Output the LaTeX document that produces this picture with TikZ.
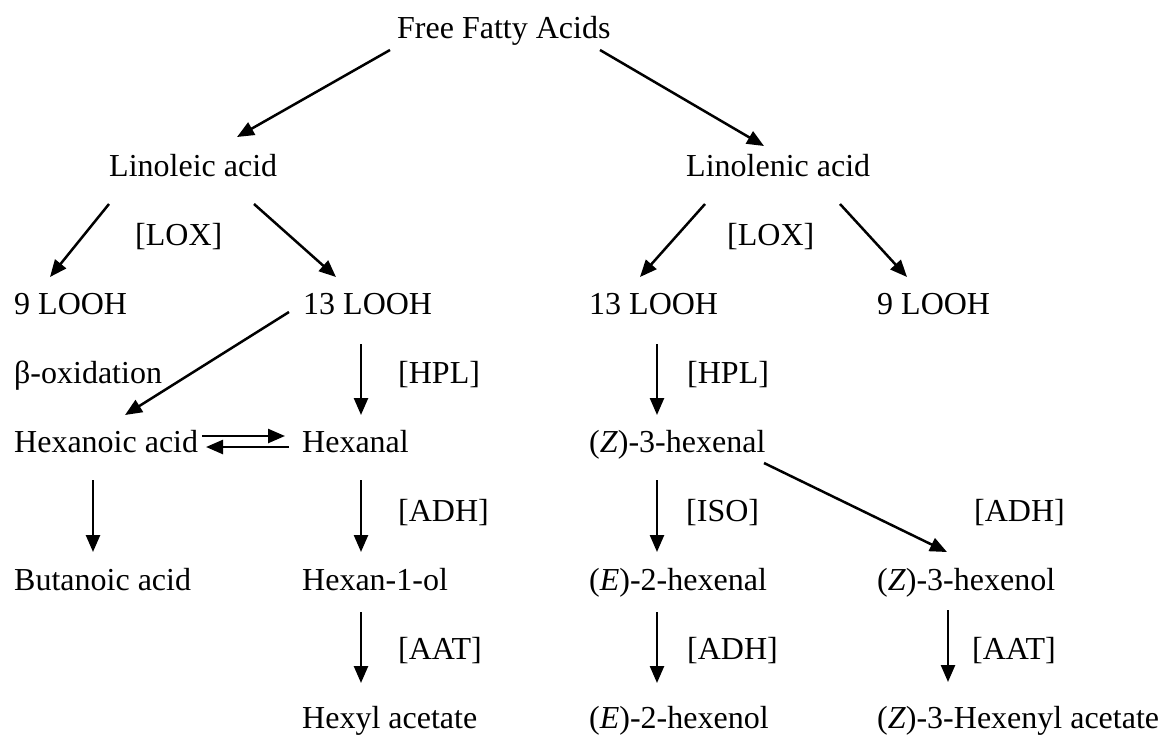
\documentclass[tikz,border=0pt]{standalone}
\usepackage{fontspec}
\setmainfont{Liberation Serif}
\usetikzlibrary{arrows.meta}
\begin{document}
\begin{tikzpicture}[x=1pt,y=1pt,
  lbl/.style={anchor=base west, inner sep=0pt, font=\fontsize{32}{38}\selectfont},
  arr/.style={line width=2.5pt, -{Triangle[length=17pt,width=14pt]}}]
\useasboundingbox (0,0) rectangle (1162,-734);
% nodes
\node[lbl] (ffa) at (397,-38) {Free Fatty Acids};
\node[lbl] (lino) at (109,-176) {Linoleic acid};
\node[lbl] (lnn) at (686,-176) {Linolenic acid};
\node[lbl] (loxL) at (135,-245) {[LOX]};
\node[lbl] (loxR) at (727,-245) {[LOX]};
\node[lbl] (l9a) at (14,-314) {9 LOOH};
\node[lbl] (l13a) at (303,-314) {13 LOOH};
\node[lbl] (l13b) at (589,-314) {13 LOOH};
\node[lbl] (l9b) at (877,-314) {9 LOOH};
\node[lbl] (beta) at (14,-383) {β-oxidation};
\node[lbl] (hplL) at (398,-383) {[HPL]};
\node[lbl] (hplR) at (687,-383) {[HPL]};
\node[lbl] (hexacid) at (14,-452) {Hexanoic acid};
\node[lbl] (hexanal) at (302,-452) {Hexanal};
\node[lbl] (zhexenal) at (589,-452) {(\textit{Z})-3-hexenal};
\node[lbl] (adhL) at (398,-521) {[ADH]};
\node[lbl] (iso) at (686,-521) {[ISO]};
\node[lbl] (adhR) at (974,-521) {[ADH]};
\node[lbl] (butan) at (14,-590) {Butanoic acid};
\node[lbl] (hexanol) at (302,-590) {Hexan-1-ol};
\node[lbl] (ehexenal) at (589,-590) {(\textit{E})-2-hexenal};
\node[lbl] (zhexenol) at (877,-590) {(\textit{Z})-3-hexenol};
\node[lbl] (aatL) at (398,-659) {[AAT]};
\node[lbl] (adhM) at (687,-659) {[ADH]};
\node[lbl] (aatR) at (972,-659) {[AAT]};
\node[lbl] (hexylac) at (302,-728) {Hexyl acetate};
\node[lbl] (ehexenol) at (589,-728) {(\textit{E})-2-hexenol};
\node[lbl] (zacet) at (877,-728) {(\textit{Z})-3-Hexenyl acetate};
% connectors
\draw[arr] ([shift={(-7,-12)}]ffa.base west) -- ([shift={(128,39)}]lino.base west);
\draw[arr] ([shift={(203,-12)}]ffa.base west) -- ([shift={(78,30)}]lnn.base west);
\draw[arr] ([shift={(0,-28)}]lino.base west) -- ([shift={(36,37)}]l9a.base west);
\draw[arr] ([shift={(145,-28)}]lino.base west) -- ([shift={(33,37)}]l13a.base west);
\draw[arr] ([shift={(19,-28)}]lnn.base west) -- ([shift={(51,37)}]l13b.base west);
\draw[arr] ([shift={(154,-28)}]lnn.base west) -- ([shift={(30,37)}]l9b.base west);
\draw[arr] ([shift={(-14,2)}]l13a.base west) -- ([shift={(111,37)}]hexacid.base west);
\draw[arr] ([shift={(58,-30)}]l13a.base west) -- ([shift={(59,37)}]hexanal.base west);
\draw[arr] ([shift={(188,16)}]hexacid.base west) -- ([shift={(-17,16)}]hexanal.base west);
\draw[arr] ([shift={(-13,5)}]hexanal.base west) -- ([shift={(192,5)}]hexacid.base west);
\draw[arr] ([shift={(79,-28)}]hexacid.base west) -- ([shift={(79,38)}]butan.base west);
\draw[arr] ([shift={(59,-28)}]hexanal.base west) -- ([shift={(59,38)}]hexanol.base west);
\draw[arr] ([shift={(59,-22)}]hexanol.base west) -- ([shift={(59,45)}]hexylac.base west);
\draw[arr] ([shift={(68,-30)}]l13b.base west) -- ([shift={(68,37)}]zhexenal.base west);
\draw[arr] ([shift={(68,-28)}]zhexenal.base west) -- ([shift={(68,38)}]ehexenal.base west);
\draw[arr] ([shift={(175,-11)}]zhexenal.base west) -- ([shift={(70,38)}]zhexenol.base west);
\draw[arr] ([shift={(68,-22)}]ehexenal.base west) -- ([shift={(68,45)}]ehexenol.base west);
\draw[arr] ([shift={(71,-20)}]zhexenol.base west) -- ([shift={(71,46)}]zacet.base west);
\end{tikzpicture}
\end{document}
